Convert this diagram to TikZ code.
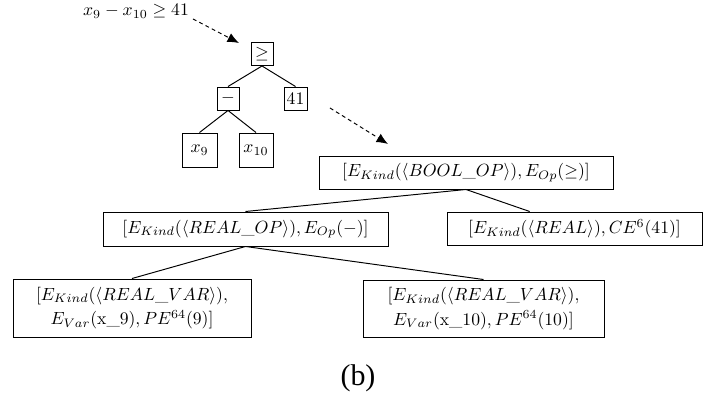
\documentclass[tikz,border=0pt]{standalone}
\usepackage{fontspec}
\newfontfamily\capfont{Liberation Serif}
\usetikzlibrary{arrows.meta,calc}
\begin{document}
\begin{tikzpicture}[x=0.567pt,y=-0.567pt, line width=0.55pt,
  box/.style={draw, inner sep=0pt, align=center},
  treeedge/.style={draw},
  dasharrow/.style={dash pattern=on 2.2pt off 1.8pt, -{Latex[length=6.5pt,width=5.5pt]}}]
\useasboundingbox (0,0) rectangle (716,398);
% top expression tree
\node[inner sep=0pt] (lbl) at (136,11) {$x_9 - x_{10} \geq 41$};
\node[box, minimum width=22*0.567pt, minimum height=23*0.567pt] (ge) at (262,54) {$\geq$};
\node[box, minimum width=22*0.567pt, minimum height=23*0.567pt] (minus) at (228,98.5) {$-$};
\node[box, minimum width=23*0.567pt, minimum height=23*0.567pt] (n41) at (295.5,98.5) {$41$};
\node[box, minimum width=35*0.567pt, minimum height=34*0.567pt] (x9) at (199.5,150) {$x_9$};
\node[box, minimum width=34*0.567pt, minimum height=34*0.567pt] (x10) at (256,150) {$x_{10}$};
\draw[treeedge] (ge.south) -- (minus.north);
\draw[treeedge] (ge.south) -- (n41.north);
\draw[treeedge] (minus.south) -- (x9.north);
\draw[treeedge] (minus.south) -- (x10.north);
% dashed arrows
\coordinate (a1s) at (193,19);
\coordinate (a1e) at (239,43);
\draw[dasharrow] (a1s) -- (a1e);
\coordinate (a2s) at (330,108);
\coordinate (a2e) at (388,144);
\draw[dasharrow] (a2s) -- (a2e);
% encoded tree
\node[box, minimum width=294*0.567pt, minimum height=33*0.567pt] (bool) at (466,172.5)
  {$[E_{Kind}(\langle BOOL\_OP\rangle), E_{Op}(\geq)]$};
\node[box, minimum width=285*0.567pt, minimum height=34*0.567pt] (realop) at (245.5,229)
  {$[E_{Kind}(\langle REAL\_OP\rangle), E_{Op}(-)]$};
\node[box, minimum width=255*0.567pt, minimum height=33*0.567pt] (real) at (574.5,228.5)
  {$[E_{Kind}(\langle REAL\rangle), CE^{6}(41)]$};
\node[box, minimum width=238*0.567pt, minimum height=58*0.567pt, font=\fontsize{10}{14}\selectfont] (var1) at (132,308)
  {$[E_{Kind}(\langle REAL\_VAR\rangle),$\\ $E_{Var}(\mathrm{x\_9}), PE^{64}(9)]$};
\node[box, minimum width=241*0.567pt, minimum height=57*0.567pt, font=\fontsize{10}{14}\selectfont] (var2) at (483.5,308.5)
  {$[E_{Kind}(\langle REAL\_VAR\rangle),$\\ $E_{Var}(\mathrm{x\_10}), PE^{64}(10)]$};
\draw[treeedge] (bool.south) -- (realop.north);
\draw[treeedge] (bool.south) -- ($(real.north west)!0.325!(real.north east)$);
\draw[treeedge] (realop.south) -- (var1.north);
\draw[treeedge] (realop.south) -- (var2.north);
% caption
\node[font=\capfont\fontsize{17}{20}\selectfont] (cap) at (358,378) {(b)};
\end{tikzpicture}
\end{document}
